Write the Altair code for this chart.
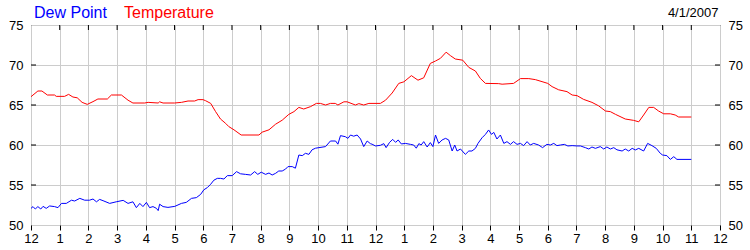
import altair as alt
import pandas as pd

FONT = "Liberation Sans"

temp_hours = [0, 0.24, 0.38, 0.57, 0.82, 0.88, 1.17, 1.31, 1.46, 1.61, 1.78, 1.96, 2.16, 2.33, 2.66,
              2.8, 3.15, 3.38, 3.55, 3.96, 4.08, 4.43, 4.48, 4.6, 5.0, 5.24, 5.47, 5.7, 5.82, 5.99,
              6.08, 6.26, 6.43, 6.6, 6.78, 6.89, 7.07, 7.32, 7.94, 8.05, 8.29, 8.52, 8.75, 8.98,
              9.16, 9.33, 9.5, 9.74, 9.94, 10.08, 10.26, 10.43, 10.6, 10.69, 10.9, 11.01, 11.3,
              11.42, 11.59, 11.77, 12.17, 12.35, 12.58, 12.81, 12.99, 13.25, 13.48, 13.68, 13.91,
              14.09, 14.26, 14.46, 14.61, 14.78, 15.04, 15.25, 15.48, 15.65, 15.83, 16.29, 16.41,
              16.81, 17.05, 17.34, 17.57, 17.8, 18.0, 18.15, 18.38, 18.67, 18.85, 19.02, 19.25,
              19.54, 19.77, 20.01, 20.18, 20.36, 20.7, 20.99, 21.17, 21.34, 21.52, 21.69, 21.86,
              22.04, 22.27, 22.44, 22.56, 23.0]
temp_vals = [66.04, 66.75, 66.75, 66.25, 66.25, 66.08, 66.08, 66.33, 66.0, 65.9, 65.33, 65.08, 65.42,
             65.75, 65.75, 66.25, 66.25, 65.6, 65.25, 65.25, 65.33, 65.25, 65.4, 65.25, 65.25, 65.33,
             65.5, 65.5, 65.67, 65.67, 65.54, 65.2, 64.17, 63.25, 62.7, 62.3, 61.9, 61.25, 61.25,
             61.6, 61.9, 62.6, 63.1, 63.83, 64.17, 64.7, 64.5, 64.8, 65.2, 65.2, 65.0, 65.2, 65.2,
             65.0, 65.4, 65.4, 65.0, 65.17, 65.0, 65.2, 65.2, 65.6, 66.5, 67.7, 67.9, 68.67, 68.1,
             68.4, 70.2, 70.5, 70.83, 71.6, 71.17, 70.75, 70.6, 69.7, 69.25, 68.33, 67.7, 67.67,
             67.6, 67.7, 68.3, 68.3, 68.17, 67.92, 67.7, 67.3, 66.9, 66.67, 66.25, 66.17, 65.7,
             65.33, 64.9, 64.25, 64.17, 63.83, 63.25, 63.08, 62.9, 63.75, 64.7, 64.7, 64.25, 63.9,
             63.9, 63.75, 63.5, 63.5]

dew_hours = [0, 0.07, 0.15, 0.24, 0.34, 0.42, 0.53, 0.65, 0.82, 0.94, 1.06, 1.23, 1.41, 1.52, 1.7,
             1.87, 2.04, 2.16, 2.28, 2.39, 2.51, 2.74, 2.97, 3.21, 3.38, 3.55, 3.67, 3.79, 3.9, 4.02,
             4.13, 4.25, 4.37, 4.43, 4.48, 4.6, 4.77, 5.01, 5.24, 5.41, 5.59, 5.76, 5.91, 6.02, 6.14,
             6.26, 6.37, 6.49, 6.6, 6.72, 6.84, 7.01, 7.16, 7.3, 7.47, 7.65, 7.79, 7.9, 8.02, 8.17,
             8.29, 8.4, 8.52, 8.63, 8.75, 8.87, 8.95, 9.1, 9.21, 9.33, 9.45, 9.56, 9.68, 9.79, 9.91,
             10.03, 10.26, 10.43, 10.61, 10.69, 10.78, 10.95, 11.04, 11.13, 11.24, 11.36, 11.48,
             11.59, 11.71, 11.82, 11.88, 12.0, 12.17, 12.29, 12.37, 12.49, 12.6, 12.7, 12.79, 12.9,
             13.04, 13.22, 13.33, 13.42, 13.51, 13.59, 13.68, 13.8, 13.91, 14.0, 14.09, 14.2, 14.32,
             14.44, 14.55, 14.67, 14.76, 14.84, 14.96, 15.13, 15.25, 15.36, 15.48, 15.57, 15.71,
             15.83, 15.94, 16.04, 16.12, 16.23, 16.35, 16.47, 16.58, 16.7, 16.81, 16.93, 17.05,
             17.16, 17.28, 17.39, 17.51, 17.68, 17.82, 17.97, 18.09, 18.21, 18.32, 18.44, 18.58,
             18.7, 18.85, 19.02, 19.14, 19.31, 19.43, 19.54, 19.66, 19.83, 19.95, 20.06, 20.18,
             20.3, 20.41, 20.59, 20.7, 20.82, 20.94, 21.05, 21.17, 21.34, 21.48, 21.63, 21.78,
             21.92, 22.0, 22.15, 22.27, 22.39, 22.5, 23.0]
dew_vals = [52.08, 52.3, 52.0, 52.3, 52.0, 52.33, 52.08, 52.38, 52.3, 52.17, 52.7, 52.7, 53.1, 53.0,
            53.33, 53.1, 53.1, 53.25, 52.9, 53.2, 53.04, 52.7, 52.9, 53.08, 52.7, 52.9, 52.17, 52.7,
            52.3, 52.83, 52.17, 52.3, 52.08, 51.8, 52.6, 52.3, 52.2, 52.33, 52.7, 52.83, 53.33, 53.42,
            53.83, 54.4, 54.67, 55.1, 55.6, 55.83, 55.83, 55.75, 56.17, 56.17, 56.67, 56.4, 56.33,
            56.25, 56.67, 56.33, 56.6, 56.33, 56.5, 56.25, 56.46, 56.75, 56.75, 57.0, 57.3, 57.3,
            57.1, 58.75, 58.67, 58.96, 58.83, 59.4, 59.6, 59.67, 59.8, 60.5, 60.5, 60.1, 61.17,
            61.04, 60.83, 61.25, 61.1, 61.25, 60.75, 59.8, 60.5, 60.17, 60.1, 59.88, 59.96, 60.17,
            59.67, 60.33, 60.7, 60.33, 60.63, 60.13, 60.2, 60.08, 60.0, 59.6, 60.17, 60.0, 60.42,
            59.75, 60.3, 59.8, 61.25, 60.2, 60.63, 60.83, 60.63, 59.25, 60.0, 59.25, 59.5, 58.83,
            59.25, 59.25, 59.58, 60.2, 60.9, 61.33, 61.88, 61.33, 61.58, 60.75, 61.25, 60.2, 60.42,
            60.08, 60.42, 60.08, 60.2, 59.92, 60.42, 60.0, 60.2, 60.0, 59.67, 60.08, 60.0, 60.2,
            59.92, 60.0, 60.08, 59.88, 59.92, 59.88, 59.88, 59.67, 59.5, 59.75, 59.58, 59.8, 59.5,
            59.75, 59.5, 59.67, 59.4, 59.25, 59.5, 59.25, 59.58, 59.38, 59.58, 59.25, 60.2, 59.92,
            59.58, 58.96, 58.75, 58.67, 58.2, 58.54, 58.2, 58.2]

hour_ticks = list(range(25))
value_ticks = [50, 55, 60, 65, 70, 75]
inner_value_ticks = [55, 60, 65, 70]
inner_hour_ticks = list(range(1, 24))

temp_df = pd.DataFrame({"hour": temp_hours, "value": temp_vals})
dew_df = pd.DataFrame({"hour": dew_hours, "value": dew_vals})

W, H = 689, 200

xscale = alt.Scale(domain=[0, 24], nice=False, zero=False)
yscale = alt.Scale(domain=[50, 75], nice=False, zero=False)

x_axis = alt.Axis(values=hour_ticks,
                  labelExpr="datum.value % 12 == 0 ? '12' : '' + (datum.value % 12)",
                  grid=True, gridColor="#cccccc", gridWidth=1, tickSize=5, tickColor="black",
                  domain=False, title=None, labelFont=FONT, labelFontSize=13, labelColor="black",
                  labelPadding=2, labelOverlap=False, labelBound=False, labelFlush=False)

y_left = alt.Axis(values=value_ticks, grid=True, gridColor="#cccccc", gridWidth=1, ticks=False,
                  domain=False, title=None, labelFont=FONT, labelFontSize=13, labelColor="black",
                  labelPadding=8, labelOverlap=False, labelBound=False, labelFlush=False)
y_right = alt.Axis(values=value_ticks, orient="right", grid=False, ticks=False, domain=False,
                   title=None, labelFont=FONT, labelFontSize=13, labelColor="black",
                   labelPadding=8, labelOverlap=False, labelBound=False, labelFlush=False)

temp_line = alt.Chart(temp_df).mark_line(color="#ff0000", strokeWidth=1).encode(
    x=alt.X("hour:Q", scale=xscale, axis=x_axis),
    y=alt.Y("value:Q", scale=yscale, axis=y_left),
)
dew_line = alt.Chart(dew_df).mark_line(color="#0000ff", strokeWidth=1).encode(
    x=alt.X("hour:Q", scale=xscale, axis=None),
    y=alt.Y("value:Q", scale=yscale, axis=y_right),
)

vt_df = pd.DataFrame({"v": inner_value_ticks})
left_ticks = alt.Chart(vt_df).mark_rule(color="black", strokeWidth=1).encode(
    y=alt.Y("v:Q", scale=yscale, axis=None), x=alt.value(0), x2=alt.value(5))
right_ticks = alt.Chart(vt_df).mark_rule(color="black", strokeWidth=1).encode(
    y=alt.Y("v:Q", scale=yscale, axis=None), x=alt.value(W - 5), x2=alt.value(W))
ht_df = pd.DataFrame({"h": inner_hour_ticks})
top_ticks = alt.Chart(ht_df).mark_rule(color="black", strokeWidth=1).encode(
    x=alt.X("h:Q", scale=xscale, axis=None), y=alt.value(0), y2=alt.value(5))

t1 = alt.Chart(pd.DataFrame({"t": ["Dew Point"]})).mark_text(
    align="left", baseline="alphabetic", font=FONT, fontSize=16, color="#0000ff").encode(
    text="t:N", x=alt.value(3), y=alt.value(-7.5))
t2 = alt.Chart(pd.DataFrame({"t": ["Temperature"]})).mark_text(
    align="left", baseline="alphabetic", font=FONT, fontSize=16, color="#ff0000").encode(
    text="t:N", x=alt.value(93), y=alt.value(-7.5))
t3 = alt.Chart(pd.DataFrame({"t": ["4/1/2007"]})).mark_text(
    align="right", baseline="alphabetic", font=FONT, fontSize=13, color="black").encode(
    text="t:N", x=alt.value(W - 1.5), y=alt.value(-7.7))

chart = alt.layer(temp_line, dew_line, left_ticks, right_ticks, top_ticks, t1, t2, t3).resolve_axis(
    x="independent", y="independent"
).properties(
    width=W, height=H, autosize="none",
    padding={"left": 31, "top": 25, "right": 30, "bottom": 25},
    background="white",
).configure_view(stroke="black", strokeWidth=1)

chart.save("out.html", embed_options={"renderer": "svg", "actions": False})
